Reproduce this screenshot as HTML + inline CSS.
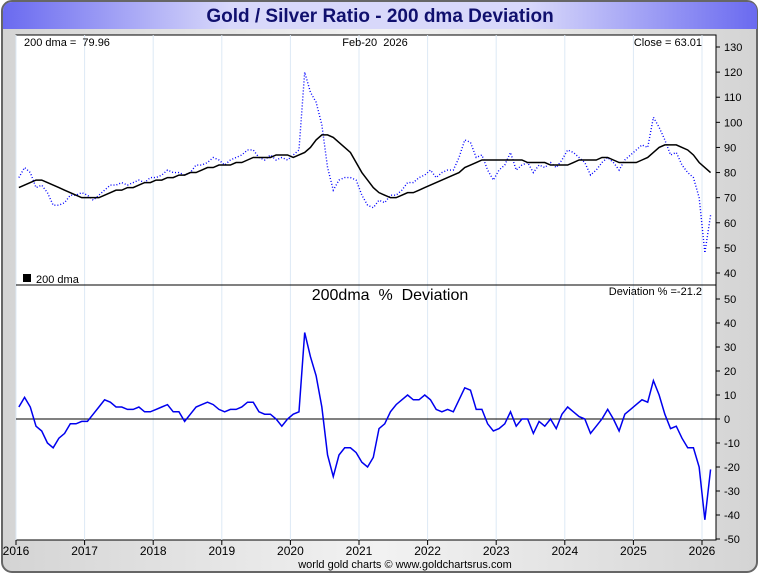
<!DOCTYPE html>
<html><head><meta charset="utf-8"><style>
body{margin:0;background:#fff;font-family:"Liberation Sans",sans-serif}
</style></head><body>
<svg id="c" width="760" height="575" xmlns="http://www.w3.org/2000/svg" font-family="Liberation Sans, sans-serif">
<defs>
<linearGradient id="tg" x1="0" x2="1" y1="0" y2="0">
<stop offset="0" stop-color="#6a6af0"/><stop offset="0.3" stop-color="#d8d8fa"/><stop offset="0.7" stop-color="#d8d8fa"/><stop offset="1" stop-color="#6a6af0"/></linearGradient>
<linearGradient id="bg" x1="0" x2="1"><stop offset="0" stop-color="#d4d4d4"/><stop offset="0.5" stop-color="#f2f2f2"/><stop offset="1" stop-color="#d4d4d4"/></linearGradient>
</defs>
<rect x="2" y="1" width="755" height="571" rx="10" fill="url(#bg)" stroke="#666" stroke-width="2"/>
<path d="M3 29 L3 12 Q3 2 13 2 L747 2 Q757 2 757 12 L757 29 Z" fill="url(#tg)"/>
<text x="380" y="22" text-anchor="middle" font-size="19" font-weight="bold" fill="#10106e">Gold / Silver Ratio - 200 dma Deviation</text>
<rect x="16" y="35" width="700" height="505" fill="#fff" stroke="#000"/>
<g id="grid"></g><g id="marks"></g><g id="axes"></g>
<line x1="16" y1="285" x2="716" y2="285" stroke="#000"/>
<text x="24" y="46" font-size="11" xml:space="preserve" style="white-space:pre">200 dma =  79.96</text>
<text x="375" y="46" font-size="11" text-anchor="middle" style="white-space:pre">Feb-20  2026</text>
<text x="702" y="46" font-size="11" text-anchor="end">Close = 63.01</text>
<rect x="23" y="274" width="8" height="8" fill="#000"/>
<text x="36" y="283" font-size="11">200 dma</text>
<text x="390" y="300" font-size="16" text-anchor="middle" style="white-space:pre">200dma  %  Deviation</text>
<text x="702" y="295" font-size="11" text-anchor="end">Deviation % =-21.2</text>
<text x="405" y="568" font-size="11" text-anchor="middle">world gold charts © www.goldchartsrus.com</text>
</svg>
<script>
const ratio=[78,82,80,74,75,72,67,67,68,71,71,72, 71,69,71,73,75,75,76,75,76,77,76,78, 78,79,81,80,80,79,80,83,83,84,86,85, 83,85,86,87,89,89,86,85,87,85,86,85, 87,89,120,112,108,99,82,73,77,78,78,77, 71,67,66,69,68,71,71,73,76,76,78,79, 81,78,80,81,81,86,93,92,86,87,81,77, 81,83,88,81,83,84,80,83,82,84,82,85, 89,88,86,84,79,81,84,86,84,81,85,87, 89,91,90,102,98,93,87,88,83,80,78,70, 48,63];
const dma=[74,75,76,77,77,76,75,74,73,72,71,70, 70,70,70,71,72,73,73,74,74,75,76,76, 77,77,78,78,79,79,80,80,81,82,82,83, 83,83,84,84,85,86,86,86,86,87,87,87, 86,87,88,90,93,95,95,94,92,90,88,84, 80,77,74,72,71,70,70,71,72,72,73,74, 75,76,77,78,79,80,82,83,84,85,85,85, 85,85,85,85,85,84,84,84,84,83,83,83, 83,84,85,85,85,85,86,86,85,84,84,84, 84,85,86,88,90,91,91,91,90,89,87,84, 82,80];
const dev=[5,9,5,-3,-5,-10,-12,-8,-6,-2,-2,-1, -1,2,5,8,7,5,5,4,4,5,3,3, 4,5,6,3,3,-1,2,5,6,7,6,4, 3,4,4,5,7,7,3,2,2,0,-3,0, 2,3,36,26,18,5,-15,-24,-15,-12,-12,-14, -18,-20,-16,-4,-2,3,6,8,10,8,8,10, 8,4,3,4,3,8,13,12,4,4,-2,-5, -4,-2,3,-3,0,0,-6,-1,-3,0,-4,2, 5,3,1,0,-6,-3,0,4,0,-5,2,4, 6,8,7,16,10,2,-4,-3,-8,-12,-12,-20, -42,-21];
const years=[2016,2017,2018,2019,2020,2021,2022,2023,2024,2025,2026];
const upperTicks=[130,120,110,100,90,80,70,60,50,40];
const lowerTicks=[50,40,30,20,10,0,-10,-20,-30,-40,-50];
const NS="http://www.w3.org/2000/svg";
const xM=i=>16+(i+0.5)/12*68.6;
const xY=y=>16+(y-2016)*68.6;
const yU=v=>47+(130-v)*226/90;
const yL=v=>419-v*2.4;
function mk(t,a,p){const e=document.createElementNS(NS,t);for(const k in a)e.setAttribute(k,a[k]);document.getElementById(p).appendChild(e);return e;}
years.forEach(y=>{
 const g=mk('line',{x1:xY(y),x2:xY(y),y1:35,y2:540,stroke:'#dde9f5'},'grid');
 
 
 const tk=mk('line',{x1:xY(y),x2:xY(y),y1:540,y2:545,stroke:'#000'},'axes');
 
 
 const t=mk('text',{x:xY(y),y:555,'font-size':12,'text-anchor':'middle'},'axes');t.textContent=y;
 
 
});
upperTicks.forEach(v=>{
 const tk=mk('line',{x1:716,x2:720,y1:yU(v),y2:yU(v),stroke:'#000'},'axes');
 
 
 const t=mk('text',{x:724,y:yU(v)+4,'font-size':11},'axes');t.textContent=v;
 
 
});
lowerTicks.forEach(v=>{
 const tk=mk('line',{x1:716,x2:720,y1:yL(v),y2:yL(v),stroke:'#000'},'axes');
 
 
 const t=mk('text',{x:724,y:yL(v)+4,'font-size':11},'axes');t.textContent=v;
 
 
});
const z=mk('line',{x1:16,x2:716,y1:yL(0),y2:yL(0),stroke:'#000'},'marks');


const r=mk('polyline',{points:ratio.map((v,i)=>xM(i)+','+yU(v)).join(' '),fill:'none',stroke:'#0000ff','stroke-width':1.4,'stroke-dasharray':'1 2'},'marks');


const d=mk('polyline',{points:dma.map((v,i)=>xM(i)+','+yU(v)).join(' '),fill:'none',stroke:'#000','stroke-width':1.5},'marks');


const dv=mk('polyline',{points:dev.map((v,i)=>xM(i)+','+yL(v)).join(' '),fill:'none',stroke:'#0000ee','stroke-width':1.5},'marks');


</script>
</body></html>
